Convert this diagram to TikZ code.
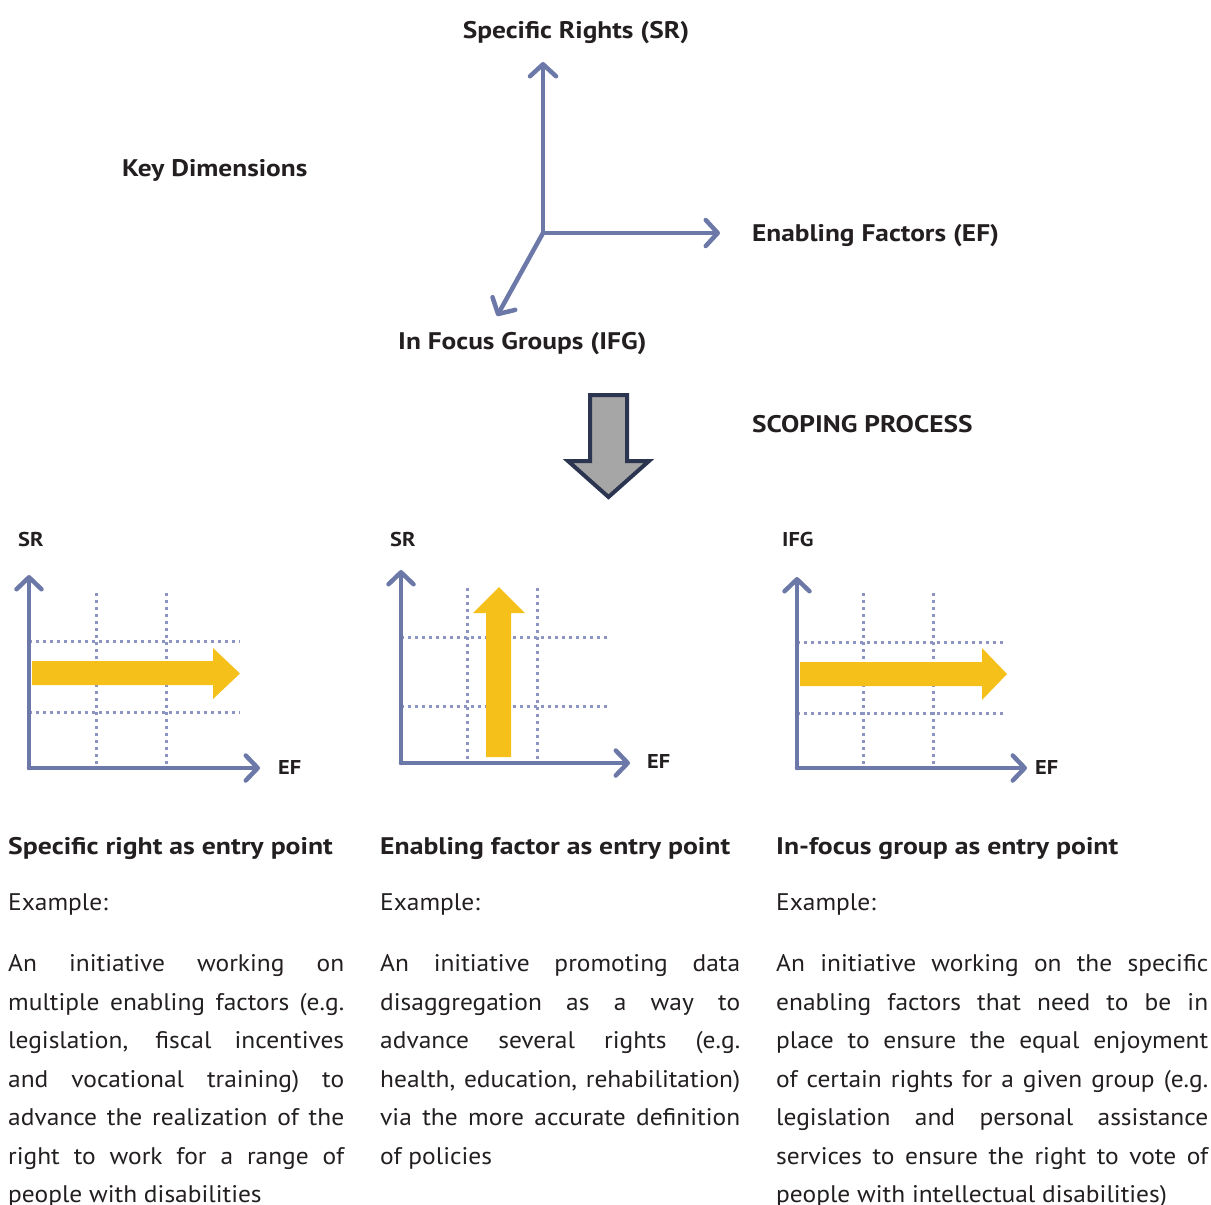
\documentclass[tikz,border=0pt]{standalone}
\usepackage{fontspec}
\setmainfont{PT Sans}
\newfontfamily\bodyfont{PT Sans}[FakeStretch=1.06]
\newfontfamily\headfont{PT Sans}[FakeStretch=1.155]
\newfontfamily\labelfont{PT Sans}[FakeStretch=1.14]
\newfontfamily\smalllabelfont{PT Sans}[FakeStretch=1.12]
\usetikzlibrary{arrows.meta}
\definecolor{axisblue}{HTML}{6C79A8}
\definecolor{dotblue}{HTML}{8C94C2}
\definecolor{baryellow}{HTML}{F5C01A}
\definecolor{arrowgray}{HTML}{A6A6A6}
\definecolor{arrownavy}{HTML}{2B3550}
\definecolor{ink}{HTML}{231F20}
\begin{document}
\begin{tikzpicture}[x=1pt,y=-1pt,
  axis/.style={draw=axisblue, line width=4.5pt, line cap=round,
    -{Straight Barb[round,length=12pt,width=26pt]}},
  chartaxis/.style={draw=axisblue, line width=4.5pt, line cap=round,
    -{Straight Barb[round,length=12pt,width=25pt]}},
  gridline/.style={draw=dotblue, line width=3pt, dash pattern=on 3pt off 4pt},
  bar/.style={fill=baryellow, draw=none},
  keylabel/.style={inner sep=0, text=ink, font=\labelfont\bfseries\fontsize{24}{28}\selectfont},
  chartlabel/.style={inner sep=0, anchor=base west, text=ink, font=\smalllabelfont\bfseries\fontsize{20}{24}\selectfont},
  heading/.style={inner sep=0, anchor=base west, text=ink, font=\headfont\bfseries\fontsize{24}{28}\selectfont},
  body/.style={inner sep=0, anchor=base west, text=ink, font=\bodyfont\fontsize{24}{28}\selectfont}]
\useasboundingbox (0,0) rectangle (1211,1205);

% ---------- key dimensions ----------
\coordinate (O) at (543,233);
\coordinate (SRtip) at (543,62);
\coordinate (EFtip) at (720,233);
\coordinate (IFGtip) at (497,316);
\draw[axis] (O) -- (SRtip);
\draw[axis] (O) -- (EFtip);
\draw[axis] (O) -- (IFGtip);
\node[keylabel, anchor=base] (srlab) at (576,38) {Specific Rights (SR)};
\node[keylabel, anchor=base west] (keydim) at (122,176) {Key Dimensions};
\node[keylabel, anchor=base west] (eflab) at (752,241) {Enabling Factors (EF)};
\node[keylabel, anchor=base west] (ifglab) at (398,349) {In Focus Groups (IFG)};

% ---------- scoping arrow ----------
\filldraw[fill=arrowgray, draw=arrownavy, line width=4pt, line join=miter]
  (590,395) -- (627,395) -- (627,461) -- (649,461) -- (608.5,497)
  -- (568,461) -- (590,461) -- cycle;
\node[keylabel, anchor=base west] (scoping) at (752,432) {SCOPING PROCESS};

% ---------- chart 1: specific right ----------
\draw[gridline] (96,593) -- (96,768);
\draw[gridline] (166,593) -- (166,768);
\draw[gridline] (29,641) -- (240,641);
\draw[gridline] (29,712) -- (240,712);
\fill[bar] (32,661) -- (213,661) -- (213,648) -- (240,673.5) -- (213,699)
  -- (213,685) -- (32,685) -- cycle;
\coordinate (c1o) at (29,768);
\coordinate (c1y) at (29,575);
\coordinate (c1x) at (260,768);
\draw[chartaxis] (c1o) -- (c1y);
\draw[chartaxis] (c1o) -- (c1x);
\node[chartlabel] (c1sr) at (18,546) {SR};
\node[chartlabel] (c1ef) at (278,774) {EF};

% ---------- chart 2: enabling factor ----------
\draw[gridline] (467,588) -- (467,763);
\draw[gridline] (537,588) -- (537,763);
\draw[gridline] (401,637) -- (610,637);
\draw[gridline] (401,706) -- (610,706);
\fill[bar] (486,757) -- (486,613) -- (473,613) -- (499,587) -- (525,613)
  -- (511,613) -- (511,757) -- cycle;
\coordinate (c2o) at (401,763);
\coordinate (c2y) at (401,570);
\coordinate (c2x) at (630,763);
\draw[chartaxis] (c2o) -- (c2y);
\draw[chartaxis] (c2o) -- (c2x);
\node[chartlabel] (c2sr) at (390,546) {SR};
\node[chartlabel] (c2ef) at (647,768) {EF};

% ---------- chart 3: in-focus group ----------
\draw[gridline] (863,593) -- (863,768);
\draw[gridline] (933,593) -- (933,768);
\draw[gridline] (797,642) -- (1005,642);
\draw[gridline] (797,713) -- (1005,713);
\fill[bar] (800,662) -- (982,662) -- (982,648) -- (1007,674) -- (982,700)
  -- (982,686) -- (800,686) -- cycle;
\coordinate (c3o) at (797,768);
\coordinate (c3y) at (797,577);
\coordinate (c3x) at (1027,768);
\draw[chartaxis] (c3o) -- (c3y);
\draw[chartaxis] (c3o) -- (c3x);
\node[chartlabel] (c3ifg) at (782,546) {IFG};
\node[chartlabel] (c3ef) at (1035,774) {EF};

% ---------- column 1 ----------
\node[heading] (h1) at (8,854) {Specific right as entry point};
\node[body] (e1) at (8,910) {Example:};
\node[body] (a1) at (8,971.5) {\makebox[336pt][s]{An initiative working on}};
\node[body] (a2) at (8,1010) {\makebox[336pt][s]{multiple enabling factors (e.g.}};
\node[body] (a3) at (8,1048.5) {\makebox[336pt][s]{legislation, fiscal incentives}};
\node[body] (a4) at (8,1087) {\makebox[336pt][s]{and vocational training) to}};
\node[body] (a5) at (8,1125.5) {\makebox[336pt][s]{advance the realization of the}};
\node[body] (a6) at (8,1164) {\makebox[336pt][s]{right to work for a range of}};
\node[body] (a7) at (8,1202.5) {people with disabilities};

% ---------- column 2 ----------
\node[heading] (h2) at (380,854) {Enabling factor as entry point};
\node[body] (e2) at (380,910) {Example:};
\node[body] (b1) at (380,971.5) {\makebox[360pt][s]{An initiative promoting data}};
\node[body] (b2) at (380,1010) {\makebox[360pt][s]{disaggregation as a way to}};
\node[body] (b3) at (380,1048.5) {\makebox[360pt][s]{advance several rights (e.g.}};
\node[body] (b4) at (380,1087) {\makebox[360pt][s]{health, education, rehabilitation)}};
\node[body] (b5) at (380,1125.5) {\makebox[360pt][s]{via the more accurate definition}};
\node[body] (b6) at (380,1164) {of policies};

% ---------- column 3 ----------
\node[heading] (h3) at (776,854) {In-focus group as entry point};
\node[body] (e3) at (776,910) {Example:};
\node[body] (d1) at (776,971.5) {\makebox[432pt][s]{An initiative working on the specific}};
\node[body] (d2) at (776,1010) {\makebox[432pt][s]{enabling factors that need to be in}};
\node[body] (d3) at (776,1048.5) {\makebox[432pt][s]{place to ensure the equal enjoyment}};
\node[body] (d4) at (776,1087) {\makebox[432pt][s]{of certain rights for a given group (e.g.}};
\node[body] (d5) at (776,1125.5) {\makebox[432pt][s]{legislation and personal assistance}};
\node[body] (d6) at (776,1164) {\makebox[432pt][s]{services to ensure the right to vote of}};
\node[body] (d7) at (776,1202.5) {people with intellectual disabilities)};
\end{tikzpicture}
\end{document}
